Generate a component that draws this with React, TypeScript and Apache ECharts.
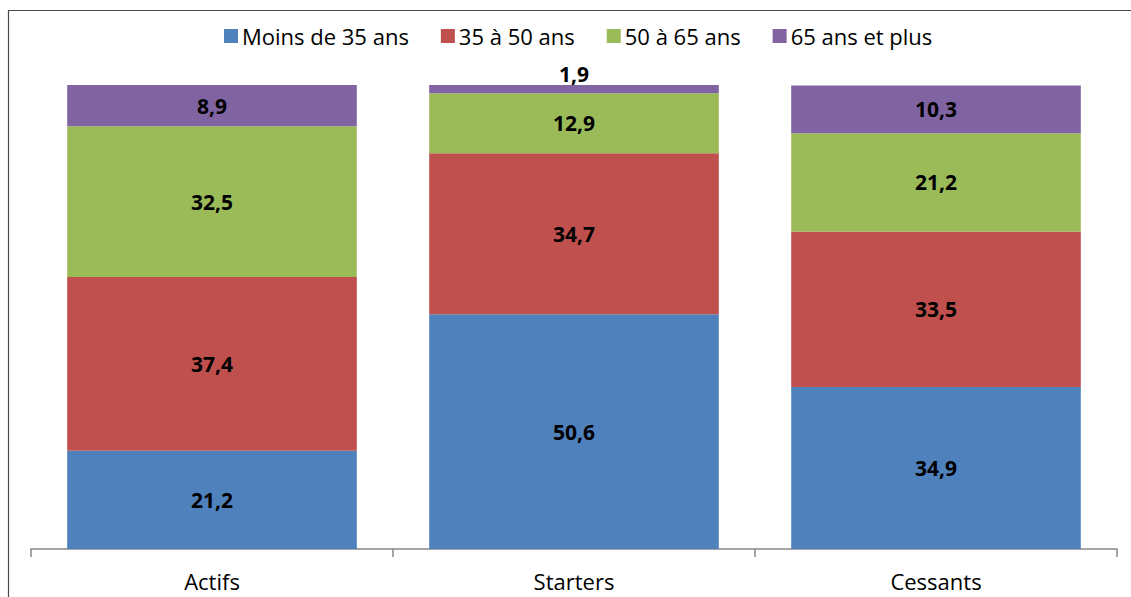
import React, { useEffect, useRef } from "react";
import * as echarts from "echarts";

// Age groups by status, percentages per column
const categories = ["Actifs", "Starters", "Cessants"];
const seriesNames = ["Moins de 35 ans", "35 à 50 ans", "50 à 65 ans", "65 ans et plus"];
const under35 = [21.2, 50.6, 34.9];
const from35to50 = [37.4, 34.7, 33.5];
const from50to65 = [32.5, 12.9, 21.2];
const over65 = [8.9, 1.9, 10.3];
const colors = ["#4F81BD", "#C0504D", "#9BBB59", "#8064A2"];

const FONT = "'Open Sans', 'Liberation Sans', sans-serif";

const fmt = (v: number) => v.toFixed(1).replace(".", ",");

export default function App() {
  const ref = useRef<HTMLDivElement>(null);

  useEffect(() => {
    if (!ref.current) return;
    const chart = echarts.init(ref.current, undefined, { renderer: "svg" });
    const values = [under35, from35to50, from50to65, over65];

    const labelBase = {
      show: true,
      position: "inside" as const,
      color: "#000000",
      fontFamily: FONT,
      fontWeight: "bold" as const,
      fontSize: 21,
      formatter: (p: any) => fmt(p.value as number),
    };

    const series = values.map((vals, si) => ({
      name: seriesNames[si],
      type: "bar" as const,
      stack: "total",
      barCategoryGap: "20%",
      itemStyle: { color: colors[si] },
      label: labelBase,
      data: vals.map((v) =>
        // thin segments get their label above the column
        v < 5
          ? { value: v, label: { ...labelBase, position: "top", distance: 1 } }
          : { value: v }
      ),
    }));

    chart.setOption({
      animation: false,
      backgroundColor: "#ffffff",
      graphic: [
        {
          type: "rect",
          shape: { x: 8.5, y: 10.5, width: 1200, height: 700 },
          style: { fill: "none", stroke: "#4a4a4a", lineWidth: 1.2 },
          silent: true,
          z: 100,
        },
      ],
      legend: {
        left: 219,
        top: 20,
        itemWidth: 14,
        itemHeight: 14,
        itemGap: 32,
        icon: "rect",
        textStyle: { fontFamily: FONT, fontSize: 22, color: "#000000", padding: [0, 0, 0, -1] },
        data: seriesNames,
      },
      grid: { left: 31, right: 14, top: 85, bottom: 48 },
      xAxis: {
        type: "category",
        data: categories,
        axisLine: { lineStyle: { color: "#868686", width: 1.5 } },
        axisTick: { show: true, length: 8, lineStyle: { color: "#868686", width: 1.5 } },
        axisLabel: { fontFamily: FONT, fontSize: 22, color: "#000000", margin: 21 },
      },
      yAxis: {
        type: "value",
        min: 0,
        max: 100,
        show: false,
        splitLine: { show: false },
      },
      series,
    });

    return () => chart.dispose();
  }, []);

  return (
    <div
      ref={ref}
      style={{ position: "fixed", left: 0, top: 0, width: 1131, height: 597 }}
    />
  );
}
